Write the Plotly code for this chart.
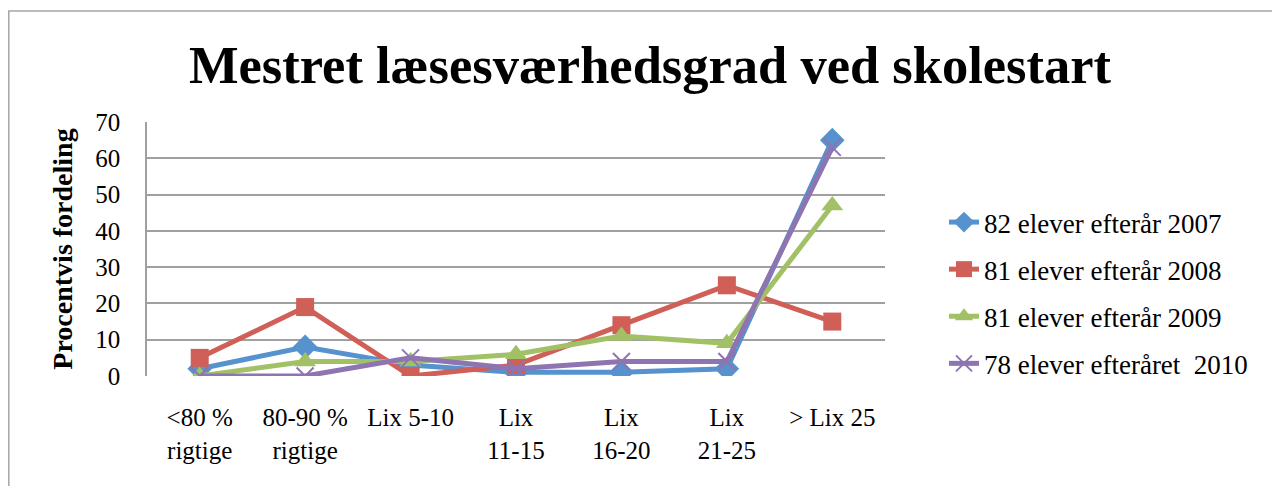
import plotly.graph_objects as go

categories = ["<80 %<br>rigtige", "80-90 %<br>rigtige", "Lix 5-10", "Lix<br>11-15",
              "Lix<br>16-20", "Lix<br>21-25", "> Lix 25"]

elever_2007 = [2, 8, 3, 1, 1, 2, 65]
elever_2008 = [5, 19, 0, 3, 14, 25, 15]
elever_2009 = [0, 4, 4, 6, 11, 9, 47]
elever_2010 = [0, 0, 5, 2, 4, 4, 63]

series = [
    ("82 elever efterår 2007", elever_2007, "#5592CE", "diamond", 19),
    ("81 elever efterår 2008", elever_2008, "#CF5F57", "square", 18),
    ("81 elever efterår 2009", elever_2009, "#A2C167", "triangle-up", 19),
    ("78 elever efteråret  2010", elever_2010, "#8E74B0", "x-thin-open", 17),
]

serif = "Liberation Serif, Times New Roman, serif"

fig = go.Figure()
x = list(range(len(categories)))
for name, vals, color, symbol, size in series:
    marker = dict(symbol=symbol, size=size, color=color)
    if symbol == "x-thin-open":
        marker["line"] = dict(color=color, width=2)
    fig.add_trace(go.Scatter(
        x=x, y=vals, name=name, mode="lines+markers", legendgroup=name,
        line=dict(color=color, width=5),
        marker=marker
    ))

# page body has an 8px margin, so work in window pixels and shift
OFF = 8
W, H = 1280 - OFF, 486 - OFF
L, R, T, B = 147 - OFF, 885 - OFF, 122 - OFF, 376 - OFF

def px_x(p):
    return (p - OFF - L) / (R - L)

def px_y(p):
    return (B - (p - OFF)) / (B - T)

fig.update_layout(
    width=W, height=H,
    margin=dict(l=L, r=W - R, t=T, b=H - B),
    paper_bgcolor="white", plot_bgcolor="white",
    font=dict(family=serif, size=25, color="black"),
    title=dict(
        text="<b>Mestret læsesværhedsgrad ved skolestart</b>",
        font=dict(family=serif, size=52.5, color="black"),
        x=(650 - OFF) / W, xanchor="center", y=1 - (65 - OFF) / H, yanchor="middle"
    ),
    showlegend=True,
    legend=dict(
        x=px_x(944), xanchor="left", y=px_y(198), yanchor="top",
        font=dict(family=serif, size=27, color="black"),
        traceorder="grouped", tracegroupgap=9, bgcolor="rgba(0,0,0,0)"
    ),
    shapes=[
        dict(type="line", xref="paper", yref="paper",
             x0=px_x(8), x1=px_x(1290), y0=px_y(11), y1=px_y(11),
             line=dict(color="#A6A6A6", width=1.5)),
        dict(type="line", xref="paper", yref="paper",
             x0=px_x(8.8), x1=px_x(8.8), y0=px_y(11), y1=px_y(495),
             line=dict(color="#A6A6A6", width=1.5)),
    ],
)

fig.update_xaxes(
    tickvals=x, ticktext=categories, range=[-0.5, 6.5],
    showgrid=False, zeroline=False, showline=False, ticks="",
    ticklabelstandoff=24, tickfont=dict(family=serif, size=25)
)
fig.update_yaxes(
    range=[0, 70], dtick=10, showgrid=True, gridcolor="#A0A0A0", gridwidth=1.5,
    zeroline=False, showline=True, linecolor="#A0A0A0", linewidth=1.5,
    ticks="", ticklabelstandoff=20, tickfont=dict(family=serif, size=25),
    title=dict(text="<b>Procentvis fordeling</b>", standoff=14,
               font=dict(family=serif, size=28))
)

fig.write_html("out.html")
